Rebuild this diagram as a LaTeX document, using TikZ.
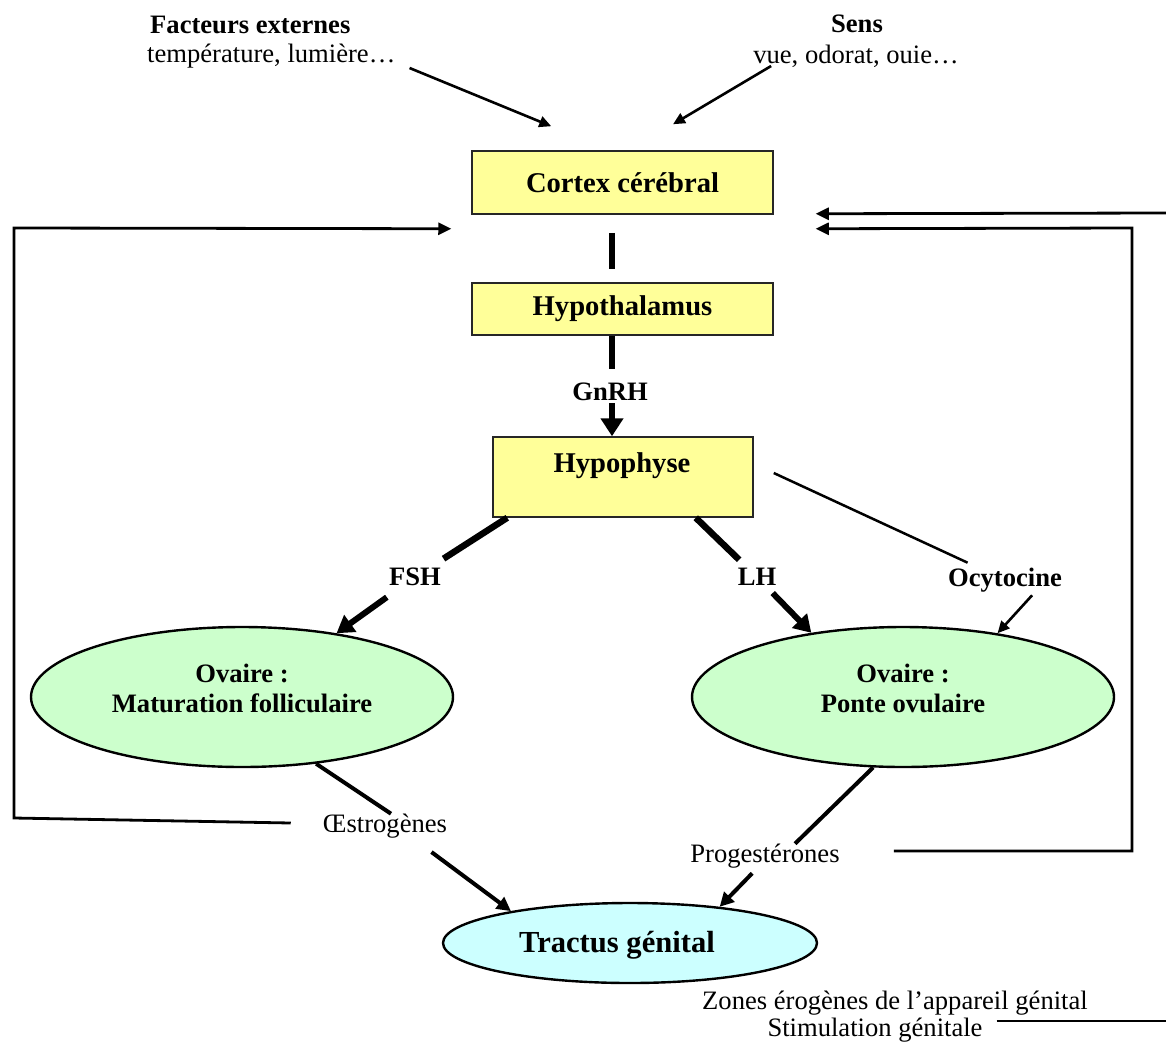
\documentclass[tikz,border=0pt]{standalone}
\usepackage{fontspec}
\setmainfont{Liberation Serif}
\usetikzlibrary{arrows.meta,shapes.geometric}
\definecolor{boxyellow}{HTML}{FFFF99}
\definecolor{ovgreen}{HTML}{CCFFCC}
\definecolor{trcyan}{HTML}{CCFFFF}
\begin{document}
\begin{tikzpicture}[x=1pt,y=-1pt,line join=miter,
  boxy/.style={draw=black!85, line width=1.5pt, fill=boxyellow, inner sep=0pt},
  boxfont/.style={font=\bfseries\fontsize{28.6}{32}\selectfont, inner sep=0pt},
  ovalg/.style={ellipse, draw, line width=2.4pt, fill=ovgreen, inner sep=0pt},
  ovalc/.style={ellipse, draw, line width=2.4pt, fill=trcyan, inner sep=0pt},
  lbl/.style={font=\bfseries\fontsize{26.6}{30}\selectfont, inner sep=0pt},
  rtxt/.style={font=\fontsize{26.6}{30}\selectfont, inner sep=0pt},
  thk/.style={line width=6.5pt},
  gnarr/.style={line width=6.5pt, -{Triangle[length=18pt,width=22pt]}},
  thkarr/.style={line width=6pt, -{Triangle[length=17pt,width=20pt]}},
  med/.style={line width=4pt},
  medarr/.style={line width=4pt, -{Triangle[length=14pt,width=14pt]}},
  thinln/.style={line width=2.5pt},
  thinarr/.style={line width=2.6pt, -{Triangle[length=12pt,width=11pt]}},
  fb/.style={line width=2.8pt},
  fbarr/.style={line width=2.8pt, -{Triangle[length=13pt,width=12pt]}}
]
\fill[white] (0,0) rectangle (1166,1049);
\useasboundingbox (0,0) rectangle (1166,1049);

% top texts
\node[lbl, anchor=west] (fe) at (150,25) {Facteurs externes};
\node[rtxt, anchor=west] (temp) at (147,56) {température, lumière…};
\node[lbl] (sens) at (857,24) {Sens};
\node[rtxt] (vue) at (856,56) {vue, odorat, ouie…};

% boxes
\node[boxy, boxfont, minimum width=301pt, minimum height=63pt] (cortex) at (622.5,182.5) {Cortex cérébral};
\node[boxy, boxfont, minimum width=301pt, minimum height=52pt] (hypo) at (622.5,309) {Hypothalamus};
\node[boxy, minimum width=260pt, minimum height=80pt] (hypbox) at (623,477) {};
\node[boxfont] (hyptxt) at (622,466) {Hypophyse};

% ellipses
\node[ovalg, minimum width=422pt, minimum height=140pt] (ovl) at (242,697) {};
\node[lbl, align=center] (ovltxt) at (242,688) {Ovaire :\\Maturation folliculaire};
\node[ovalg, minimum width=422pt, minimum height=140pt] (ovr) at (903,697) {};
\node[lbl, align=center] (ovrtxt) at (903,688) {Ovaire :\\Ponte ovulaire};
\node[ovalc, minimum width=374pt, minimum height=80pt] (tract) at (630,943) {};
\node[font=\bfseries\fontsize{30.6}{34}\selectfont, inner sep=0pt] (tracttxt) at (617,945) {Tractus génital};

% labels
\node[lbl] (gnrh) at (610,392) {GnRH};
\node[lbl] (fsh) at (415,577) {FSH};
\node[lbl] (lh) at (757,577) {LH};
\node[lbl] (ocy) at (1005,580) {Ocytocine};
\node[rtxt] (estro) at (385,826) {Œstrogènes};
\node[rtxt] (prog) at (765,856) {Progestérones};
\node[rtxt] (zones) at (895,1003) {Zones érogènes de l’appareil génital};
\node[rtxt] (stim) at (875,1030) {Stimulation génitale};

\coordinate (gx) at (612,0);
\coordinate (fl1) at (14,818);
\coordinate (fl2) at (14,228);
\coordinate (edge1) at (1166,213);
\coordinate (fr1) at (1132,851);
\coordinate (fr2) at (1132,228);
\coordinate (edge2) at (1166,1021);

% top arrows
\draw[thinarr] ([xshift=14pt,yshift=-12pt]temp.east) -- ([xshift=80pt,yshift=24pt]cortex.north west);
\draw[thinarr] ([xshift=18pt,yshift=-10pt]vue.west) -- ([xshift=50.5pt,yshift=26pt]cortex.north);

% central chain
\draw[thk, shorten <=18pt, shorten >=13pt] (cortex.south -| gx) -- (hypo.north -| gx);
\draw[thk, shorten >=14pt] (hypo.south -| gx) -- (gnrh.north -| gx);
\draw[gnarr, shorten <=2pt] (gnrh.south -| gx) -- (hypbox.north -| gx);

% FSH / LH / Ocytocine
\draw[thk, shorten >=17pt] ([xshift=15pt]hypbox.south west) -- (fsh);
\draw[thkarr, shorten <=19pt] (fsh) -- (ovl.34);
\draw[thk, shorten >=12pt] ([xshift=-58pt]hypbox.south east) -- (lh);
\draw[thkarr, shorten <=10pt] (lh) -- (ovr.145);
\draw[thinln, shorten >=12pt] ([xshift=20pt,yshift=4pt]hypbox.east) -- (ocy);
\draw[thinarr] ([xshift=-30pt,yshift=-3pt]ocy.south east) -- (ovr.34);

% hormones to tractus
\draw[med] (ovl.-42) -- ([xshift=6pt]estro.north);
\draw[medarr, shorten <=23pt] ([xshift=28pt]estro.south) -- (tract.165);
\draw[med] (ovr.-113) -- ([xshift=30pt]prog.north);
\draw[medarr, shorten <=7pt] ([xshift=-8pt]prog.south) -- (tract.22);

% feedback loops
\draw[fbarr] ([xshift=-32pt,yshift=3pt]estro.west) -- (fl1) -- (fl2) -- ([xshift=-20pt,yshift=-14pt]cortex.south west);
\draw[fbarr] (edge1) -- ([xshift=42pt,yshift=1pt]cortex.south east);
\draw[fbarr] ([xshift=54pt,yshift=5pt]prog.east) -- (fr1) -- (fr2) -- ([xshift=42pt,yshift=-14pt]cortex.south east);
\draw[fb, shorten <=14pt] (stim.east |- edge2) -- (edge2);
\end{tikzpicture}
\end{document}
